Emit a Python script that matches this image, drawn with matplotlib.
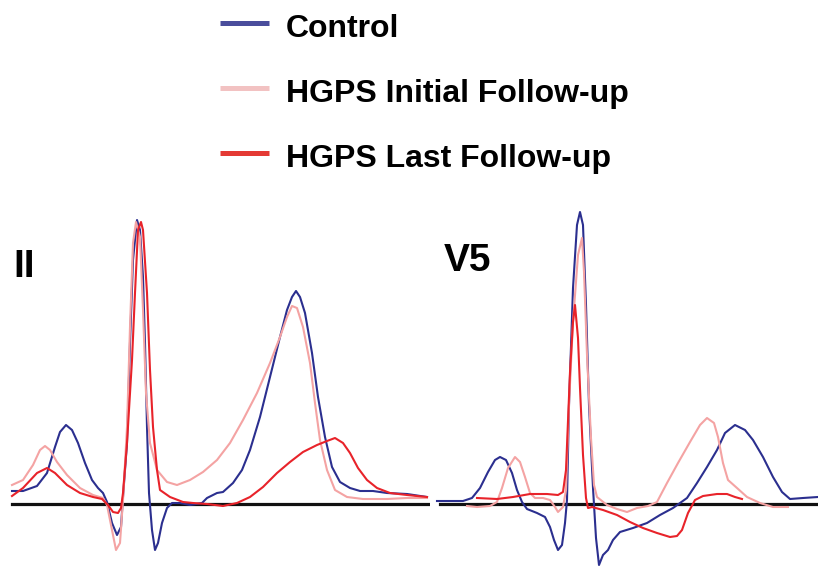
import matplotlib.pyplot as plt

# lead II traces: time offset (px units) and amplitude above baseline
ctrl_ii_t = [12, 23, 37, 47, 55, 60, 66, 72, 78, 85, 92, 98, 103, 107, 112, 117, 121, 123, 127, 130,
             133, 137, 140, 143, 145, 147, 149, 152, 155, 158, 162, 167, 172, 180, 190, 202, 207, 217, 223, 233,
             242, 250, 260, 270, 280, 287, 292, 296, 300, 305, 312, 318, 325, 332, 340, 350, 360, 373, 387, 407,
             427]
ctrl_ii_a = [13, 13, 18, 31, 57, 72, 79, 74, 61, 41, 24, 16, 11, 2, -19, -31, -23, 7, 61, 161,
             244, 284, 274, 227, 161, 77, 11, -26, -46, -39, -19, -4, 1, 1, -1, 1, 6, 11, 12, 21,
             34, 54, 87, 127, 167, 194, 207, 213, 207, 191, 151, 107, 67, 37, 22, 16, 13, 13, 11, 10,
             7]

init_ii_t = [12, 23, 33, 40, 45, 50, 57, 67, 80, 93, 103, 107, 112, 116, 120, 123, 127, 130, 133, 136,
             140, 143, 146, 150, 157, 167, 177, 190, 203, 217, 230, 243, 257, 270, 280, 287, 292, 297, 303, 310,
             315, 320, 327, 335, 347, 363, 387, 407, 427]
init_ii_a = [19, 24, 39, 54, 58, 54, 42, 29, 16, 9, 6, -1, -26, -46, -39, 4, 77, 177, 261, 282,
             267, 194, 111, 61, 34, 22, 19, 24, 32, 44, 61, 84, 111, 141, 167, 187, 198, 196, 177, 141,
             101, 64, 34, 14, 7, 5, 5, 6, 6]

last_ii_t = [12, 23, 37, 47, 55, 67, 80, 93, 102, 108, 113, 118, 121, 123, 127, 132, 135, 138, 141, 143,
             147, 150, 153, 157, 160, 170, 183, 193, 207, 223, 237, 250, 263, 277, 290, 303, 317, 327, 335, 343,
             350, 358, 367, 377, 390, 407, 427]
last_ii_a = [8, 16, 31, 36, 31, 19, 11, 7, 5, -1, -8, -9, -4, 11, 61, 144, 211, 274, 282, 274,
             211, 134, 77, 34, 14, 7, 2, 1, 0, -2, 1, 7, 17, 31, 42, 52, 59, 63, 66, 61,
             51, 36, 24, 16, 11, 9, 7]

# lead V5 traces (time offset from panel start)
ctrl_v5_t = [7, 20, 33, 42, 50, 58, 65, 70, 76, 82, 87, 92, 97, 107, 115, 120, 124, 128, 132, 135,
             137, 139, 143, 147, 150, 153, 156, 159, 163, 166, 169, 173, 178, 183, 190, 203, 217, 230, 243, 257,
             267, 277, 287, 295, 305, 315, 323, 333, 343, 352, 360, 373, 388]
ctrl_v5_a = [3, 3, 3, 6, 16, 32, 44, 47, 44, 31, 14, 2, -5, -9, -13, -23, -36, -46, -41, -19,
             4, 99, 216, 279, 292, 279, 199, 99, 16, -34, -61, -51, -46, -36, -28, -24, -19, -11, -4, 6,
             21, 37, 54, 71, 79, 74, 64, 47, 27, 12, 5, 6, 7]

init_v5_t = [37, 47, 60, 67, 72, 78, 85, 90, 95, 100, 105, 113, 120, 125, 128, 133, 136, 139, 143, 148,
             152, 154, 157, 161, 164, 167, 177, 187, 197, 207, 218, 227, 237, 248, 260, 270, 277, 284, 288, 293,
             298, 307, 317, 330, 343, 358]
init_v5_a = [-2, -3, -2, 2, 16, 36, 47, 42, 27, 11, 6, 6, 4, -3, -8, -3, 14, 99, 182, 249,
             266, 232, 149, 66, 19, 7, -1, -5, -8, -4, -2, 2, 21, 41, 62, 79, 86, 81, 67, 41,
             24, 16, 7, 1, -3, -3]

last_v5_t = [47, 67, 83, 100, 117, 128, 133, 136, 140, 143, 145, 148, 150, 153, 156, 158, 162, 173, 187, 200,
             213, 227, 240, 247, 252, 258, 265, 273, 287, 297, 305, 312]
last_v5_a = [6, 5, 7, 10, 10, 9, 12, 34, 132, 182, 199, 166, 116, 49, 6, -4, -3, -6, -11, -18,
             -24, -29, -33, -32, -26, -9, 4, 8, 10, 10, 7, 5]

series_names = ['Control', 'HGPS Initial Follow-up', 'HGPS Last Follow-up']
line_colors = ['#2b2f8f', '#f4a3a3', '#e8232a']
legend_colors = ['#4a4d9c', '#f2c2c2', '#e43a34']
lead_names = ['II', 'V5']

W, H = 818, 567
fig = plt.figure(figsize=(W / 100, H / 100), dpi=100)

# full-figure axes for legend and lead labels
bg = fig.add_axes([0, 0, 1, 1])
bg.set_xlim(0, W)
bg.set_ylim(H, 0)
bg.axis('off')

font = dict(family='Liberation Sans', weight='bold', color='black')
for i, name in enumerate(series_names):
    y = 23 + i * 65
    bg.plot([220, 269], [y, y], color=legend_colors[i], lw=3.6, solid_capstyle='butt')
    bg.text(286, y + 14, name, fontsize=23, va='baseline', ha='left', **font)

panels = [
    (0, 430, [(ctrl_ii_t, ctrl_ii_a), (init_ii_t, init_ii_a), (last_ii_t, last_ii_a)], (12, 428)),
    (430, 388, [(ctrl_v5_t, ctrl_v5_a), (init_v5_t, init_v5_a), (last_v5_t, last_v5_a)], (10, 388)),
]
base_y = 504
top_y = 200
for (x0, w, traces, base_span), lead in zip(panels, lead_names):
    ax = fig.add_axes([x0 / W, 0, w / W, (H - top_y) / H])
    ax.set_xlim(0, w)
    ax.set_ylim(base_y - H, base_y - top_y)
    ax.axis('off')
    ax.plot(base_span, [0, 0], color='#111111', lw=2.3, zorder=1)
    # pink first, then blue, then red on top
    for k in [1, 0, 2]:
        t, a = traces[k]
        ax.plot(t, a, color=line_colors[k], lw=1.5, zorder=2 + k,
                solid_joinstyle='round')

bg.text(13, 277, lead_names[0], fontsize=28, va='baseline', ha='left', **font)
bg.text(444, 271, lead_names[1], fontsize=28, va='baseline', ha='left', **font)

fig.savefig('out.png', dpi=100)
